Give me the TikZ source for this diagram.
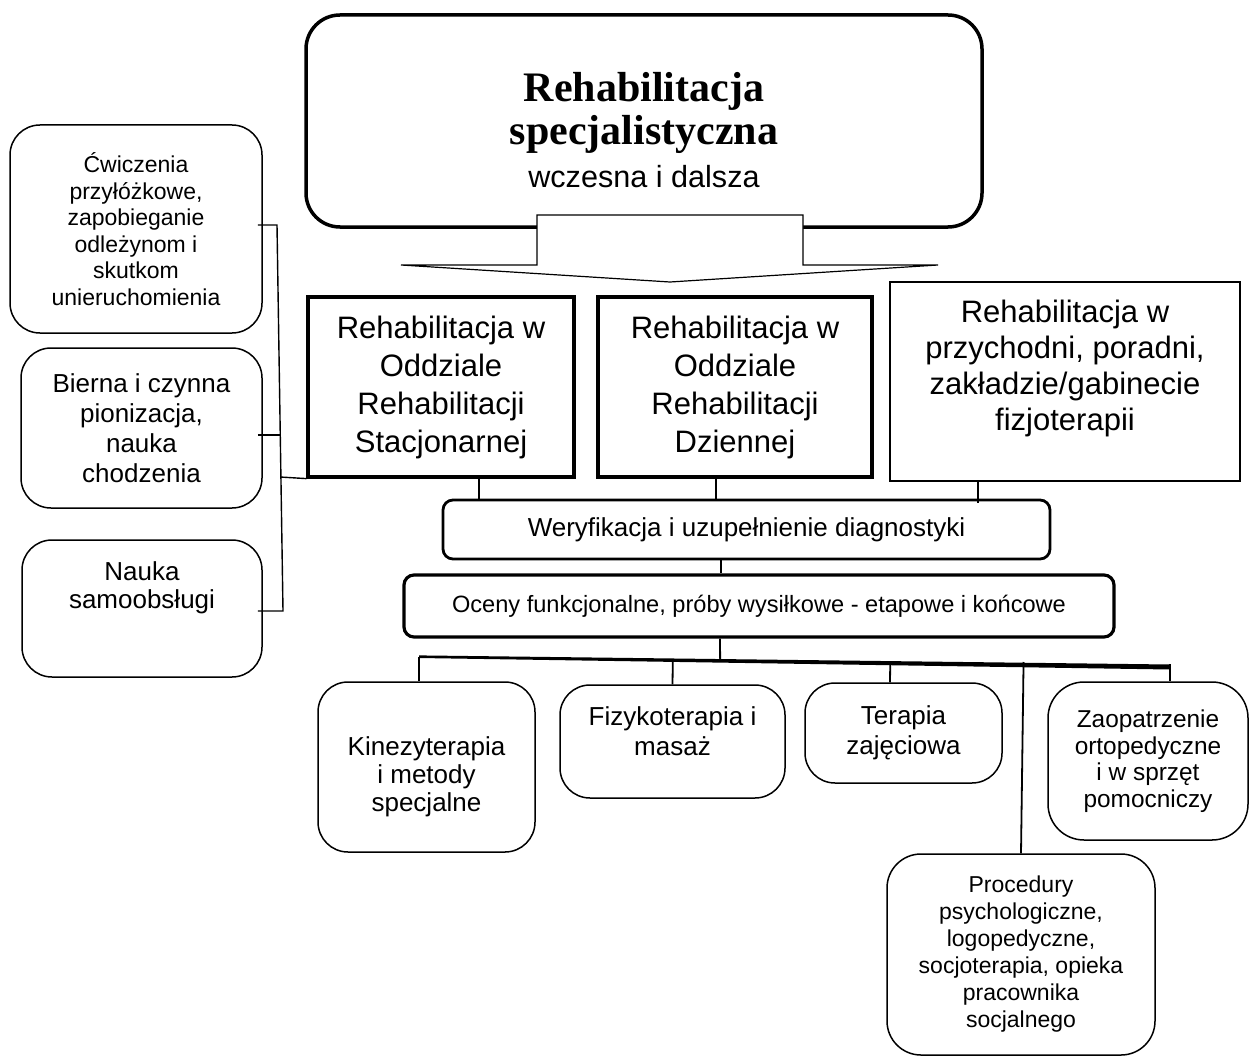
\documentclass[tikz,border=0pt]{standalone}
\usepackage{fontspec}
\setmainfont{Liberation Sans}
\newfontfamily\titlefont{Liberation Serif}
\usetikzlibrary{calc}

\newcommand\setfs[2]{\fontsize{#1}{#2}\selectfont}

\tikzset{
  rbox/.style={draw, line width=0.75pt, rounded corners=15pt, align=center, inner sep=0pt},
  sqbox/.style={draw, line width=1.6pt, align=center, inner sep=0pt},
  link/.style={line width=0.9pt},
  thinlink/.style={line width=0.7pt},
}

\begin{document}
\begin{tikzpicture}[x=0.5pt,y=-0.5pt]
  \useasboundingbox (0,0) rectangle (1251,1059);

  % main box with its title
  \node[rbox, line width=1.75pt, rounded corners=17pt, minimum width=338pt, minimum height=106pt] (spec) at (644,121) {};
  \node[anchor=base, font=\titlefont\bfseries\setfs{21}{23}] (ttl1) at (644,102) {Rehabilitacja};
  \node[anchor=base, font=\titlefont\bfseries\setfs{21}{23}] (ttl2) at (644,145) {specjalistyczna};
  \node[anchor=base, font=\setfs{15.3}{18}] (ttl3) at (644,188) {wczesna i dalsza};

  % block arrow down
  \draw[line width=0.6pt, fill=white]
    (537,215) -- (803,215) -- (803,265) -- (938,265) -- (670,282) -- (401,265) -- (537,265) -- cycle;

  % kinds of rehabilitation
  \node[sqbox, minimum width=133pt, minimum height=90pt, font=\setfs{15.5}{19}] (stac) at (441,387)
    {Rehabilitacja w\\Oddziale\\Rehabilitacji\\Stacjonarnej};
  \node[sqbox, minimum width=137pt, minimum height=90pt, font=\setfs{15.5}{19}] (dzien) at (735,387)
    {Rehabilitacja w\\Oddziale\\Rehabilitacji\\Dziennej};
  \node[sqbox, line width=1.1pt, minimum width=175pt, minimum height=99.5pt] (przych) at (1065,381.5) {};
  \node[align=center, font=\setfs{15.5}{18}] (przychtxt) at (1065,368)
    {Rehabilitacja w\\przychodni, poradni,\\zakładzie/gabinecie\\fizjoterapii};

  % diagnostics
  \node[rbox, line width=1.4pt, rounded corners=5pt, minimum width=303.5pt, minimum height=29.5pt, font=\setfs{13}{15}] (weryf) at (746.5,529.5)
    {Weryfikacja i uzupełnienie diagnostyki};
  \node[rbox, line width=1.6pt, rounded corners=5pt, minimum width=355pt, minimum height=31pt, font=\setfs{11.8}{14}] (oceny) at (759,606)
    {Oceny funkcjonalne, próby wysiłkowe - etapowe i końcowe};

  % early rehabilitation, left column
  \node[rbox, minimum width=126pt, minimum height=104pt, font=\setfs{11.5}{13.25}] (cw) at (136,229)
    {Ćwiczenia\\przyłóżkowe,\\zapobieganie\\odleżynom i\\skutkom\\unieruchomienia};
  \node[rbox, minimum width=120.5pt, minimum height=80pt, font=\setfs{13}{15}] (bierna) at (141.5,428)
    {Bierna i czynna\\pionizacja,\\nauka\\chodzenia};
  \node[rbox, minimum width=120pt, minimum height=68.5pt] (nauka) at (142,608.5) {};
  \node[align=center, font=\setfs{13}{14}] (naukatxt) at (142,588) {Nauka\\samoobsługi};

  % procedures, bottom row
  \node[rbox, minimum width=108.5pt, minimum height=85pt] (kinez) at (426.5,767) {};
  \node[align=center, font=\setfs{13}{14}] (kineztxt) at (426.5,777) {Kinezyterapia\\i metody\\specjalne};
  \node[rbox, minimum width=112.5pt, minimum height=56.5pt] (fizyko) at (672.5,741.5) {};
  \node[align=center, font=\setfs{13}{15}] (fizykotxt) at (672.5,731) {Fizykoterapia i\\masaż};
  \node[rbox, minimum width=98.5pt, minimum height=50pt, font=\setfs{13}{15}] (terapia) at (903.5,733)
    {Terapia\\zajęciowa};
  \node[rbox, rounded corners=18pt, minimum width=100pt, minimum height=79pt, font=\setfs{12.2}{13.3}] (zaop) at (1148,761)
    {Zaopatrzenie\\ortopedyczne\\i w sprzęt\\pomocniczy};
  \node[rbox, rounded corners=17pt, minimum width=134pt, minimum height=100.5pt, font=\setfs{11.5}{13.5}] (proced) at (1021,954.5)
    {Procedury\\psychologiczne,\\logopedyczne,\\socjoterapia, opieka\\pracownika\\socjalnego};

  % bracket on the left
  \coordinate (brT) at (277,225);
  \coordinate (brB) at (283,611);
  \coordinate (brM) at ($(brT)!0.544!(brB)$);
  \coordinate (brS) at ($(brT)!0.653!(brB)$);
  \draw[thinlink] ([xshift=-2.5pt]cw.east |- brT) -- (brT) -- (brB) -- ([xshift=-2.5pt]nauka.east |- brB);
  \draw[thinlink] ([xshift=-2.5pt]bierna.east |- brM) -- (brM);
  \draw[thinlink] (brS) -- (stac.south west);

  % links between levels
  \draw[link] ([xshift=19pt]stac.south) -- ([xshift=19pt]stac.south |- weryf.north);
  \draw[link] ([xshift=-9.5pt]dzien.south) -- ([xshift=-9.5pt]dzien.south |- weryf.north);
  \draw[link] ([xshift=-43.5pt]przych.south) -- ([xshift=-43.5pt,yshift=-2pt]przych.south |- weryf.north);
  \draw[link] ([xshift=-12.75pt]weryf.south) -- ([xshift=-12.75pt]weryf.south |- oceny.north);

  % slanted bar
  \coordinate (barL) at (419,656.7);
  \coordinate (barR) at (1170,667);
  \fill ([yshift=0.65pt]barL) -- ([yshift=1.25pt]barR) -- ([yshift=-1.25pt]barR) -- ([yshift=-0.65pt]barL) -- cycle;
  \draw[link] ([xshift=-19.5pt]oceny.south) -- ($(barL)!0.401!(barR)$);

  % drops to the procedures
  \coordinate (terT) at ([xshift=-6.75pt]terapia.north);
  \draw[link] (barL) -- (barL |- kinez.north);
  \draw[link] ($(barL)!(fizyko.north)!(barR)$) -- (fizyko.north);
  \draw[link] ($(barL)!(terT)!(barR)$) -- (terT);
  \draw[link] ([yshift=1.5pt]$(barL)!(proced.north)!(barR)$) -- (proced.north);
  \draw[link] ([yshift=1.5pt]barR) -- (barR |- zaop.north);

\end{tikzpicture}
\end{document}
